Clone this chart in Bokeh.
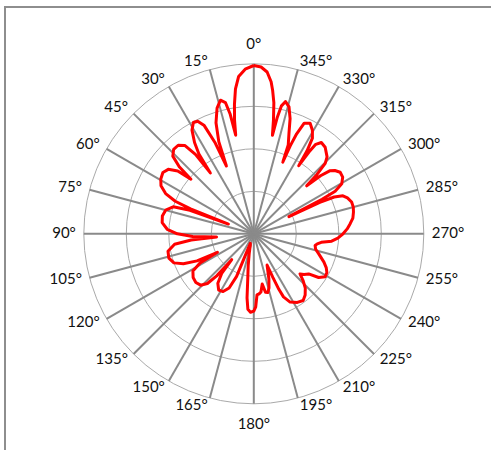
import numpy as np
from bokeh.plotting import figure
from bokeh.models import ColumnDataSource
from bokeh.core.properties import value
from bokeh.embed import file_html
from bokeh.resources import INLINE

# ---- data (angle in degrees, counter-clockwise from top; radius relative to outer ring) ----
pattern_angle = [
    0, 3, 5.5, 7.2, 8.5, 9.6, 10.4,
    11.2, 12.2, 14.0, 16.3, 18.8, 20.8, 22.0,
    23.0, 24.6, 26.5, 28.5, 30.8, 33.0, 34.5, 35.5,
    36.3, 38.0, 40.5, 43.5, 46.2, 48.0, 49.0,
    50.5, 53.0, 56.0, 59.5, 62.6, 65.5, 67.5, 68.5, 69.0,
    69.8, 71.5, 75.0, 79.0, 83.0, 87.0, 90.0, 92.5, 95.0,
    95.7, 97.5, 101.5, 106.0, 110.0, 113.0, 115.5, 117.0,
    118.5, 121.5, 125.8, 130.0, 134.0, 137.0, 138.6, 139.5,
    141.0, 144.0, 148.0, 152.0, 155.5, 158.0, 160.0,
    163.0, 167.0, 170.0, 172.2, 174.0, 175.5, 177.6, 180.0, 181.5, 183.0,
    185.0, 187.0, 189.5, 191.3, 193.5, 195.7, 198.5, 201.5, 203.0,
    203.6, 204.3, 205.2, 208.0, 212.4, 216.5, 220.0, 223.5, 226.5, 229.0,
    231.0, 233.8, 236.0, 239.0, 242.0, 245.0, 248.0, 252.8, 256.0, 259.2,
    261.0, 262.8, 264.6, 267.0, 270.0, 273.0, 276.0, 279.0, 282.3, 285.0,
    288.0, 291.0, 293.1, 294.6, 295.5, 296.1,
    296.8, 297.6, 299.6, 302.5, 305.5, 308.0, 309.7, 311.0, 312.2,
    313.2, 314.6, 316.4, 320.5, 323.5, 325.3, 326.0, 326.6,
    327.3, 328.5, 330.5, 333.0, 335.5, 336.8, 337.5, 338.0,
    338.8, 340.8, 342.5, 344.5, 346.5, 347.8, 348.6, 349.3,
    350.2, 351.3, 352.5, 353.5, 355.3, 357.5, 360.0,
]
pattern_radius = [
    0.99, 0.97, 0.93, 0.86, 0.77, 0.68, 0.59,
    0.72, 0.79, 0.81, 0.77, 0.69, 0.58, 0.43,
    0.58, 0.70, 0.74, 0.745, 0.71, 0.64, 0.57, 0.44,
    0.58, 0.66, 0.685, 0.685, 0.66, 0.59, 0.49,
    0.58, 0.63, 0.645, 0.635, 0.615, 0.57, 0.50, 0.40, 0.16,
    0.40, 0.50, 0.537, 0.548, 0.543, 0.51, 0.45, 0.36, 0.22,
    0.37, 0.47, 0.515, 0.52, 0.50, 0.45, 0.37, 0.24,
    0.36, 0.42, 0.44, 0.445, 0.435, 0.40, 0.33, 0.20,
    0.30, 0.36, 0.39, 0.385, 0.35, 0.27, 0.06,
    0.07, 0.12, 0.19, 0.26, 0.38, 0.445, 0.462, 0.455, 0.43, 0.36,
    0.355, 0.345, 0.30, 0.35, 0.355, 0.33, 0.28, 0.22, 0.20,
    0.28, 0.36, 0.41, 0.455, 0.478, 0.488, 0.47, 0.44, 0.40, 0.36,
    0.38, 0.40, 0.46, 0.49, 0.487, 0.47, 0.445, 0.40, 0.375, 0.367,
    0.378, 0.40, 0.46, 0.495, 0.525, 0.55, 0.57, 0.59, 0.60, 0.606,
    0.605, 0.59, 0.57, 0.52, 0.43, 0.23,
    0.45, 0.54, 0.595, 0.62, 0.624, 0.605, 0.58, 0.52, 0.42,
    0.51, 0.59, 0.625, 0.66, 0.668, 0.64, 0.58, 0.48,
    0.58, 0.66, 0.70, 0.73, 0.715, 0.64, 0.56, 0.455,
    0.56, 0.63, 0.71, 0.775, 0.80, 0.77, 0.70, 0.59,
    0.68, 0.78, 0.85, 0.90, 0.955, 0.982, 0.99,
]
ring_radius = [0.25, 0.5, 0.75, 1.0]
spoke_angle = [0, 15, 30, 45, 60, 75, 90, 105, 120, 135, 150, 165,
               180, 195, 210, 225, 240, 255, 270, 285, 300, 315, 330, 345]
spoke_label = ["0°", "15°", "30°", "45°", "60°", "75°", "90°", "105°", "120°", "135°", "150°", "165°",
               "180°", "195°", "210°", "225°", "240°", "255°", "270°", "285°", "300°", "315°", "330°", "345°"]

# ---- geometry of the page ----
W, H = 487, 444
PX = 170.0                 # pixels per unit radius
CX, CY = 247.3, 225.3      # centre in canvas pixels (from top-left)

p = figure(width=W, height=H, output_backend="svg", toolbar_location=None,
           x_range=(-CX / PX, (W - CX) / PX), y_range=(-(H - CY) / PX, CY / PX),
           x_axis_type=None, y_axis_type=None, min_border=0,
           background_fill_color="white", border_fill_color="white")
p.grid.visible = False
p.outline_line_color = None
p.styles = {"border-left": "2px solid #8e8e8e", "border-top": "2px solid #8e8e8e",
            "margin-left": "4px", "margin-top": "6px"}

# rings
p.circle(x=[0] * len(ring_radius), y=[0] * len(ring_radius), radius=ring_radius,
         fill_color=None, line_color="#a9a9a9", line_width=1)

# spokes
sa = np.radians(np.array(spoke_angle, dtype=float))
p.segment(x0=np.zeros(len(sa)), y0=np.zeros(len(sa)), x1=-np.sin(sa), y1=np.cos(sa),
          line_color="#8a8a8a", line_width=2)

# pattern
pa = np.radians(np.array(pattern_angle))
pr = np.array(pattern_radius)
p.line(x=-pr * np.sin(pa), y=pr * np.cos(pa), line_color="#ff0000", line_width=3,
       line_join="round")

# labels
ux, uy = -np.sin(sa), np.cos(sa)
r_lab = 178.0 / PX
align = ["right" if u < -0.01 else ("left" if u > 0.01 else "center") for u in ux]
yoff = [(-12.6 if v > 0 else 11.4) if abs(u) < 0.01 else -1.5 for u, v in zip(ux, uy)]
src = ColumnDataSource(dict(x=ux * r_lab, y=uy * r_lab, t=spoke_label, a=align, yo=yoff))
p.text(x="x", y="y", text="t", source=src, text_align="a", text_baseline="middle",
       y_offset="yo", text_font_size="15px", text_color="#111111", text_font=value("Lato"))

open("out.html", "w").write(file_html(p, INLINE))
